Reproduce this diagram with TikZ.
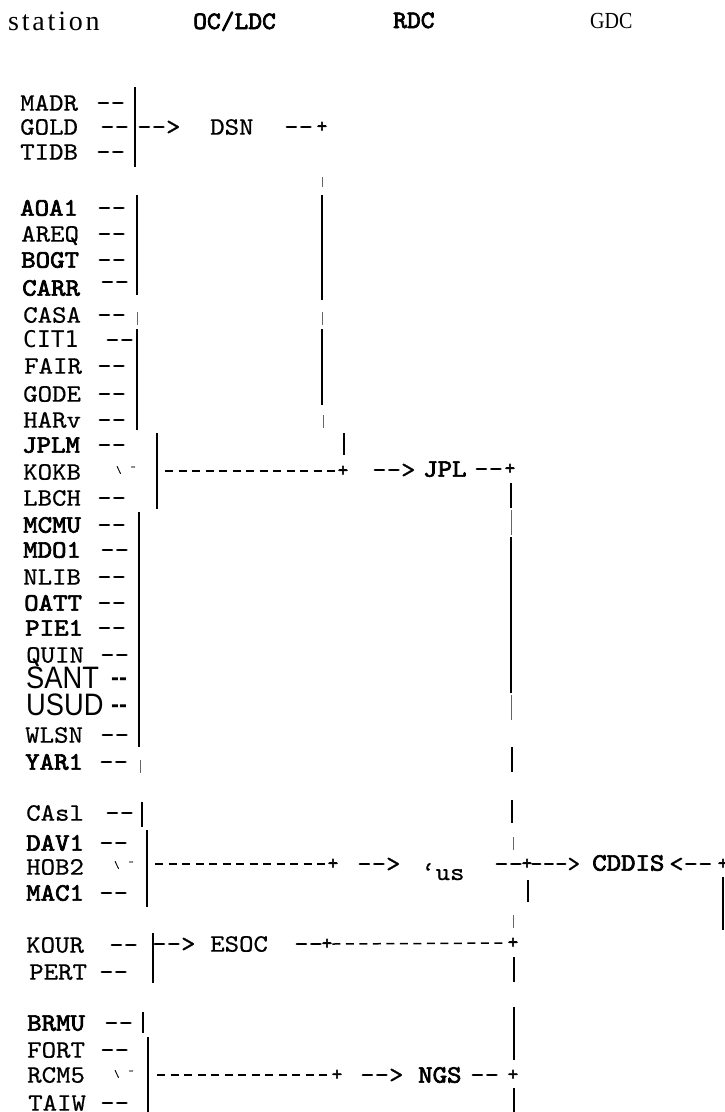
\documentclass[tikz,border=0pt]{standalone}
\usepackage{fontspec}
\newfontfamily\serfont{Liberation Serif}
\newfontfamily\sansfnt{Liberation Sans}
\newfontfamily\dvmono{DejaVu Sans Mono}
\newfontfamily\ttr{lmmono10-regular.otf}[FakeBold=0.6]
\newfontfamily\ttb{lmmono10-regular.otf}[FakeBold=2.6]
\usetikzlibrary{positioning}

% dashes without ligatures
\newcommand\dsh{-\kern0pt-}
\newcommand\arr{-\kern0pt-\kern0pt>}

\tikzset{
  stn/.style={anchor=west, inner sep=0pt, text height=15.3pt, text depth=0pt, xscale=1.1, font=\ttr\fontsize{25}{25}\selectfont},
  stnb/.style={stn, font=\ttb\fontsize{25}{25}\selectfont},
  bigstn/.style={anchor=west, inner sep=0pt, text height=22pt, text depth=0pt, xscale=0.88, font=\sansfnt\fontsize{31}{31}\selectfont},
  plus/.style={anchor=center, inner sep=0pt, font=\ttb\fontsize{20}{20}\selectfont},
  nick/.style={anchor=west, inner sep=0pt, font=\ttr\fontsize{10}{10}\selectfont},
  head/.style={anchor=base west, inner sep=0pt},
  bar/.style={line width=2.2pt},
  thinbar/.style={line width=1pt, black!60},
  tick/.style={line width=0.6pt, black!60},
  dashcon/.style={line width=1.5pt, dash pattern=on 8pt off 5.5pt},
}

\begin{document}
\begin{tikzpicture}[x=1pt, y=-1pt]
\useasboundingbox (0,0) rectangle (725,1112);

% Column heads
\node[head, font=\serfont\fontsize{28}{28}\selectfont\addfontfeature{LetterSpace=10}] (hstation) at (8,30) {station};
\node[head, xscale=1.05, font=\ttb\fontsize{25}{25}\selectfont] (hoc) at (193,29) {OC/LDC};
\node[head, xscale=1.05, font=\ttb\fontsize{25}{25}\selectfont] (hrdc) at (393,28) {RDC};
\node[head, xscale=0.87, font=\serfont\fontsize{23}{23}\selectfont] (hgdc) at (590,28) {GDC};

% Stations
\foreach \n/\s/\x/\y/\d in {
    MADR/stn/20/103/96, GOLD/stn/20/127/100, TIDB/stn/20/152/96,
    AOA1/stnb/20/208/97, AREQ/stn/21/234/97, BOGT/stnb/21/260/97,
    CASA/stn/23/315/97, FAIR/stn/24/366/97, GODE/stn/23/394/97, HARv/stn/23/420/97,
    JPLM/stnb/22/445/97, LBCH/stn/23/498/97,
    MCMU/stnb/23/525/97, MDO1/stnb/23/550/100, NLIB/stn/23/577/97, OATT/stnb/24/603/97,
    PIE1/stnb/25/628/97, QUIN/stn/26/655/100, WLSN/stn/25/735/100, YAR1/stnb/25/762/99,
    CAsl/stn/26/813/105, DAV1/stnb/26/843/99, MAC1/stnb/26/893/99,
    KOUR/stn/26/945/109, PERT/stn/29/972/99,
    BRMU/stnb/27/1023/104, FORT/stn/27/1050/100, TAIW/stn/28/1103/100} {
    \node[\s] (\n) at (\x,\y) {\n};
    \node[stn] (d\n) at (\d,\y) {\dsh};
}
\node[stnb] (CARR) at (22,288) {CARR};
\node[stn] (dCARR) at (100,282) {\dsh};
\node[stn, xscale=1/1.1, font=\dvmono\fontsize{23}{23}\selectfont] (CIT1) at (23,340) {CIT1};
\node[stn] (dCIT1) at (105,340) {\dsh};
\node[bigstn] (SANT) at (26,677) {SANT};
\node[stn, xscale=1/1.1, font=\sansfnt\bfseries\fontsize{24}{24}\selectfont] (dSANT) at (111,678) {\dsh};
\node[bigstn] (USUD) at (26,704) {USUD};
\node[stn, xscale=1/1.1, font=\sansfnt\bfseries\fontsize{24}{24}\selectfont] (dUSUD) at (111,705) {\dsh};
\node[stn] (KOKB) at (23,472) {KOKB};
\node[nick] (nKOKB) at (116,470) {\textbackslash\hspace{9pt}\raisebox{3pt}{-}};
\node[stn] (HOB2) at (26,867) {HOB2};
\node[nick] (nHOB2) at (114,865) {\textbackslash\hspace{9pt}\raisebox{3pt}{-}};
\node[stn] (RCM5) at (27,1075) {RCM5};
\node[nick] (nRCM5) at (114,1074) {\textbackslash\hspace{9pt}\raisebox{3pt}{-}};

% Centres
\node[stn] (agold) at (137,127) {\arr};
\node[stn] (dsn) at (210,127) {DSN};
\node[stn] (ddsn) at (284,127) {\dsh};
\node[plus] (dsnp) at (322,127) {+};

\node[plus] (kokbp) at (343,471) {+};
\node[stn] (ajpl) at (372,470) {\arr};
\node[stnb] (jpl) at (423,469) {JPL};
\node[stn] (djpl) at (474,469) {\dsh};
\node[plus] (jplp) at (510,469) {+};

\node[plus] (hobp) at (333,864) {+};
\node[stn] (aus) at (357,864) {\arr};
\node[stn, anchor=base west] (us) at (421,880) {‘us};
\node[stn] (dus) at (494,864) {\dsh};
\node[plus] (usp) at (527,864) {+};
\node[stn, xscale=0.95/1.1] (acddis) at (530,864) {-\kern0pt-\kern0pt-\kern0pt>};
\node[stnb] (cddis) at (592,863) {CDDIS};
\node[stn] (rcddis) at (669,864) {<\kern0pt-\kern0pt-};
\node[plus] (cddisp) at (723,864) {+};

\node[stn] (aesoc) at (152,944) {\arr};
\node[stn] (esoc) at (210,944) {ESOC};
\node[stn] (desoc) at (294,944) {\dsh};
\node[plus] (esocp) at (327,944) {+};
\node[plus] (esocj) at (513,943) {+};

\node[plus] (rcmp) at (337,1075) {+};
\node[stn] (angs) at (360,1075) {\arr};
\node[stnb] (ngs) at (418,1075) {NGS};
\node[stn] (dngs) at (470,1075) {\dsh};
\node[plus] (ngsp) at (513,1075) {+};

% Brackets
\draw[bar] (135,87) -- (135,167);
\draw[bar] (137,195) -- (137,295);
\draw[bar] (137,329) -- (137,430);
\draw[bar] (157,433) -- (157,509);
\draw[bar] (139,512) -- (139,747);
\draw[bar] (142,802) -- (142,827);
\draw[bar] (147,830) -- (147,907);
\draw[bar] (153,933) -- (153,983);
\draw[bar] (143,1012) -- (143,1033);
\draw[bar] (148,1037) -- (148,1112);
\coordinate (bkokb) at (157,471);
\coordinate (bhob) at (147,864);
\coordinate (brcm) at (148,1075);

% DSN line down to JPL
\draw[bar] (322,195) -- (322,300);
\draw[bar] (322,329) -- (322,405);
\draw[bar] (344,433) -- (344,455);

% JPL line down to CDDIS
\draw[bar] (511,483) -- (511,508);
\draw[thinbar] (511,510) -- (511,535);
\draw[bar] (511,537) -- (511,693);
\draw[thinbar] (511,695) -- (511,720);
\draw[bar] (512,747) -- (512,772);
\draw[bar] (512,800) -- (512,823);

% Lines below CDDIS row
\draw[bar] (528,880) -- (528,902);
\draw[bar] (723,877) -- (723,930);
\draw[bar] (514,957) -- (514,982);
\draw[bar] (514,1007) -- (514,1060);
\draw[bar] (514,1088) -- (514,1112);

% Faint ticks
\draw[tick] (322,177) -- (322,187);
\draw[tick] (137,312) -- (137,325);
\draw[tick] (322,312) -- (322,325);
\draw[tick] (323,415) -- (323,428);
\draw[tick] (140,760) -- (140,773);
\draw[tick] (513,837) -- (513,850);
\draw[tick] (513,915) -- (513,928);

% Dashed runs
\draw[dashcon] ([xshift=8pt]bkokb) -- (kokbp.west);
\draw[dashcon] ([xshift=8pt]bhob) -- (hobp.west);
\draw[dashcon] ([xshift=9pt]brcm) -- (rcmp.west);
\draw[dashcon] (esocp.east) -- (esocj.west);

\end{tikzpicture}
\end{document}
